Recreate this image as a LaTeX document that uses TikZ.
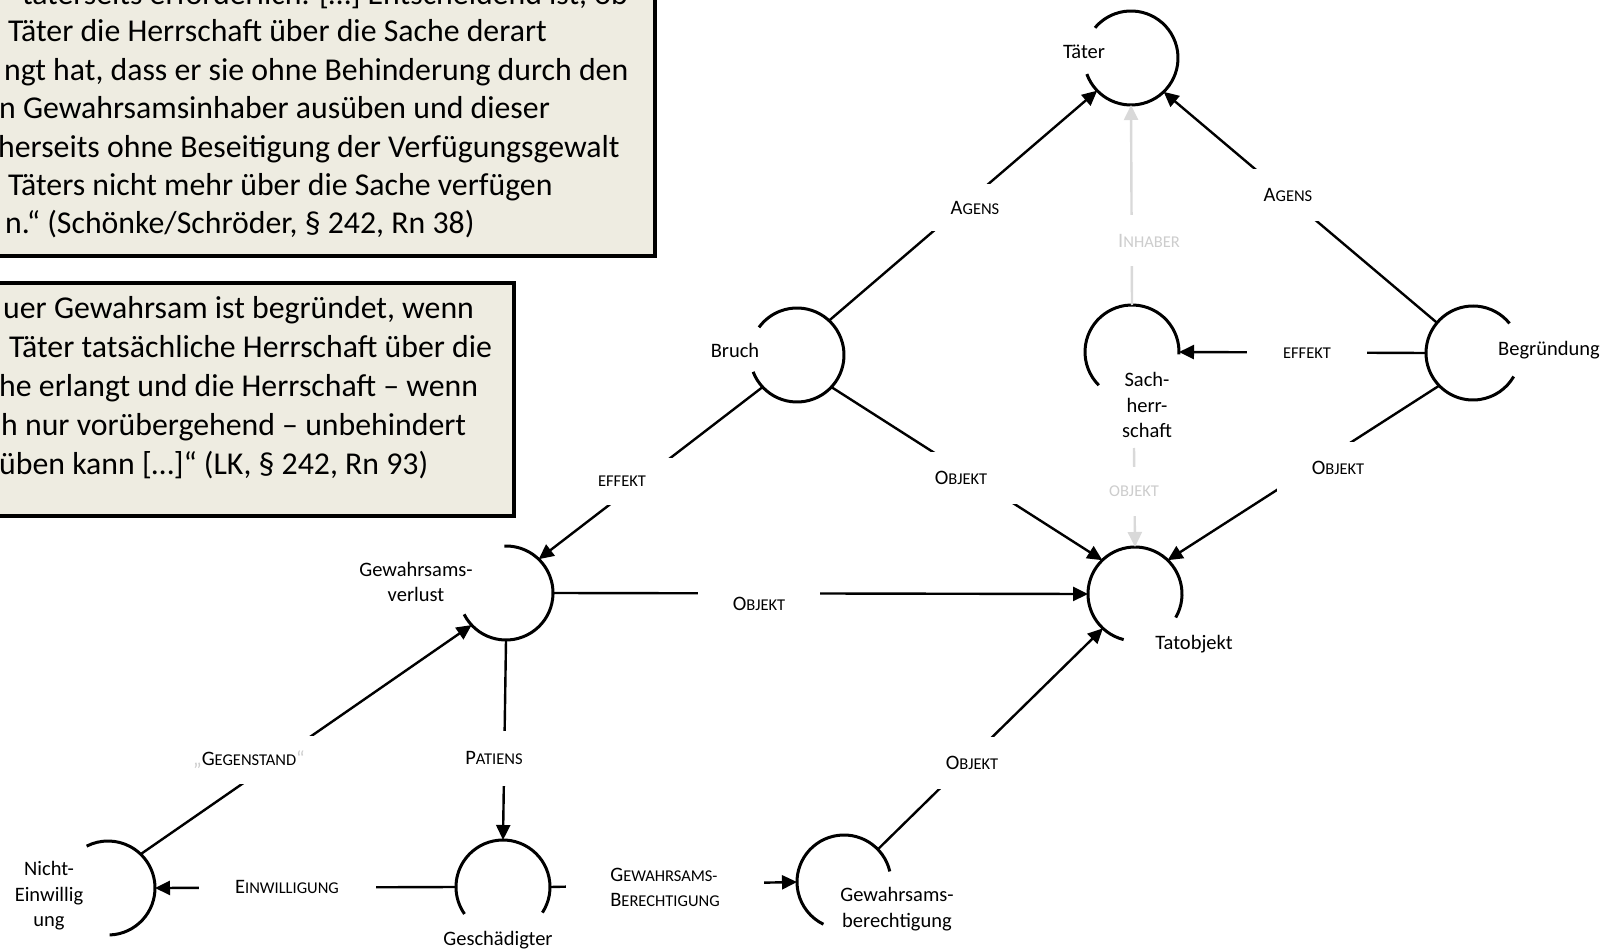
\documentclass[tikz,border=0pt]{standalone}
\usepackage{fontspec}
\setmainfont{Carlito}
\usetikzlibrary{arrows.meta}
\definecolor{boxfill}{HTML}{EEECE1}
\definecolor{faintline}{RGB}{217,217,217}
\definecolor{fainttext}{RGB}{205,205,205}
% small-caps style relation names: large initial, smaller capitals
\newcommand\relcap[2]{#1{\fontsize{16.5}{18}\selectfont #2}}
\newcommand\relsmall[1]{{\fontsize{16.5}{18}\selectfont #1}}
\tikzset{
  concept/.style={circle, minimum size=94pt, inner sep=0pt, outer sep=0pt, draw=none},
  arcline/.style={line width=3pt},
  link/.style={line width=2.4pt},
  arrowlink/.style={link, -{Triangle[length=15pt,width=14pt]}},
  faintlink/.style={arrowlink, draw=faintline, fill=faintline},
  relbox/.style={fill=white, inner sep=0pt, minimum height=50pt,
    font=\fontsize{20.5}{24}\selectfont, align=left},
  clabel/.style={inner sep=0pt, font=\fontsize{20.5}{25.5}\selectfont, align=center},
  quotebox/.style={draw=black, line width=3.5pt, fill=boxfill},
  qline/.style={anchor=base west, inner sep=0pt, font=\fontsize{31.8}{37}\selectfont}
}
\begin{document}
\begin{tikzpicture}[x=1pt,y=1pt]
\clip (0,0) rectangle (1606,-949);
\fill[white] (0,0) rectangle (1606,-949);

% ---- quotation boxes ----
\draw[quotebox] (-10,10) rectangle (655,-256);
\node[qline, anchor=base east] (qa1) at (628,-5) {täterseits erforderlich. […] Entscheidend ist, ob};
\node[qline] (qa2) at (8,-42) {Täter die Herrschaft über die Sache derart};
\node[qline] (qa3) at (4,-80.4) {ngt hat, dass er sie ohne Behinderung durch den};
\node[qline] (qa4) at (-1,-118.8) {n Gewahrsamsinhaber ausüben und dieser};
\node[qline] (qa5) at (-2,-157.2) {herseits ohne Beseitigung der Verfügungsgewalt};
\node[qline] (qa6) at (8,-195.6) {Täters nicht mehr über die Sache verfügen};
\node[qline] (qa7) at (5,-234) {n.“ (Schönke/Schröder, § 242, Rn 38)};

\draw[quotebox] (-10,-283) rectangle (514,-516);
\node[qline] (qb1) at (3,-319) {uer Gewahrsam ist begründet, wenn};
\node[qline] (qb2) at (9,-357.9) {Täter tatsächliche Herrschaft über die};
\node[qline] (qb3) at (-1,-396.8) {he erlangt und die Herrschaft – wenn};
\node[qline] (qb4) at (1,-435.7) {h nur vorübergehend – unbehindert};
\node[qline] (qb5) at (-1,-474.6) {üben kann […]“ (LK, § 242, Rn 93)};

% ---- concepts ----
\node[concept] (taeter) at (1131,-58) {};
\node[concept] (bruch)  at (797,-355) {};
\node[concept] (sach)   at (1132,-352) {};
\node[concept] (begr)   at (1473,-353) {};
\node[concept] (gv)     at (506,-593) {};
\node[concept] (tatobj) at (1135,-594) {};
\node[concept] (gesch)  at (503,-887) {};
\node[concept] (ne)     at (108,-888) {};
\node[concept] (gb)     at (844,-882) {};

\draw[arcline] (taeter.200) arc[start angle=200, end angle=500, radius=47pt];
\draw[arcline] (bruch.201)  arc[start angle=201, end angle=504, radius=47pt];
\draw[arcline] (sach.-3)    arc[start angle=-3,  end angle=225, radius=47pt];
\draw[arcline] (begr.39)    arc[start angle=39,  end angle=330, radius=47pt];
\draw[arcline] (gv.207)     arc[start angle=207, end angle=452, radius=47pt];
\draw[arcline] (tatobj.-30) arc[start angle=-30, end angle=256, radius=47pt];
\draw[arcline] (gesch.-33)  arc[start angle=-33, end angle=215, radius=47pt];
\draw[arcline] (ne.-88)     arc[start angle=-88, end angle=117, radius=47pt];
\draw[arcline] (gb.13)      arc[start angle=13,  end angle=244, radius=47pt];

% ---- concept labels ----
\node[clabel] (taeterlbl) at (1084,-52) {Täter};
\node[clabel] (bruchlbl)  at (735,-350) {Bruch};
\node[clabel] (sachlbl)   at (1147,-405) {Sach-\\herr-\\schaft};
\node[clabel] (begrlbl)   at (1549,-350) {Begründung};
\node[clabel] (gvlbl)     at (416,-582) {Gewahrsams-\\verlust};
\node[clabel] (tatlbl)    at (1194,-644) {Tatobjekt};
\node[clabel] (gesclbl)   at (498,-940) {Geschädigter};
\node[clabel] (nelbl)     at (49,-896) {Nicht-\\Einwillig\\ung};
\node[clabel] (gblbl)     at (897,-909) {Gewahrsams-\\berechtigung};
\coordinate (sachfoot) at (1134,-448);

% ---- relations (line, then label box on top) ----
\draw[arrowlink] (bruch.47) -- (taeter.224);
\draw[arrowlink] (begr.140) -- (taeter.314);
\draw[faintlink] (sach.90) -- (taeter.270);
\draw[arrowlink] (begr.180) -- (sach.0);
\draw[arrowlink] (bruch.-43) -- (tatobj.134);
\draw[arrowlink] (begr.224) -- (tatobj.46);
\draw[faintlink] (sachfoot) -- (tatobj.90);
\draw[arrowlink] (bruch.223) -- (gv.46);
\draw[arrowlink] (gv.0) -- (tatobj.180);
\draw[arrowlink] (ne.46) -- (gv.223);
\draw[arrowlink] (gv.270) -- (gesch.90);
\draw[arrowlink] (gb.44) -- (tatobj.227);
\draw[arrowlink] (gesch.180) -- (ne.0);
\draw[arrowlink] (gesch.0) -- (gb.180);

\node[relbox, minimum width=119pt, minimum height=47pt] (agensl) at (975,-208) {\relcap{A}{GENS}};
\node[relbox, minimum width=119pt, minimum height=52pt] (agensr) at (1288,-195) {\relcap{A}{GENS}};
\node[relbox, minimum width=90pt, minimum height=51pt, text=fainttext] (inhaber) at (1149,-241) {\relcap{I}{NHABER}};
\node[relbox, minimum width=120pt] (effekts) at (1307,-353) {\relsmall{EFFEKT}};
\node[relbox, minimum width=123pt, minimum height=52pt] (objbt) at (961,-478) {\relcap{O}{BJEKT}};
\node[relbox, minimum width=123pt, minimum height=52pt] (objbe) at (1338,-468) {\relcap{O}{BJEKT}};
\node[relbox, minimum width=80pt, minimum height=49pt, text=fainttext] (objs) at (1134,-491) {\relsmall{OBJEKT}};
\node[relbox, minimum width=118pt, minimum height=47pt] (effektg) at (622,-481) {\relsmall{EFFEKT}};
\node[relbox, minimum width=122pt] (objgv) at (759,-604) {\relcap{O}{BJEKT}};
\node[relbox, minimum width=184pt, minimum height=48pt] (gegen) at (249,-760) {{\color{fainttext}„}\relcap{G}{EGENSTAND}{\color{fainttext}“}};
\node[relbox, minimum width=128pt, minimum height=55pt] (patiens) at (494,-758) {\relcap{P}{ATIENS}};
\node[relbox, minimum width=123pt, minimum height=52pt] (objgb) at (972,-763) {\relcap{O}{BJEKT}};
\node[relbox, minimum width=177pt] (einw) at (287,-887) {\relcap{E}{INWILLIGUNG}};
\node[relbox, minimum width=198pt, minimum height=60pt, font=\fontsize{20.5}{25}\selectfont] (gewber) at (665,-887) {\relcap{G}{EWAHRSAMS-}\\\relcap{B}{ERECHTIGUNG}};
\end{tikzpicture}
\end{document}
